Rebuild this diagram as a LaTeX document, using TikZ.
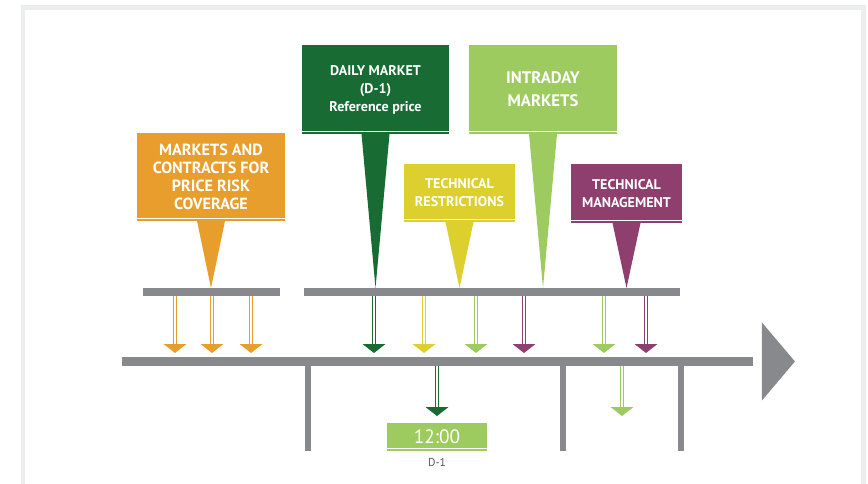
\documentclass[tikz,border=0pt]{standalone}
\usepackage{fontspec}
\setmainfont{PT Sans}
\usetikzlibrary{positioning,calc}

\definecolor{riskorange}{HTML}{E89E2C}
\definecolor{dailygreen}{HTML}{186B33}
\definecolor{restrictyellow}{HTML}{DCCF2E}
\definecolor{intragreen}{HTML}{9DCB5F}
\definecolor{managepurple}{HTML}{8F3F6E}
\definecolor{bargray}{HTML}{88898C}
\definecolor{framegray}{HTML}{ECEEED}

% double-lined drop arrow: colour, x, from node, to node, gap above target
\newcommand\drop[5]{%
  \draw[feed=#1] (#2,0 |- #3.south) -- ($(#2,0 |- #4.north)+(0,-#5)$);
  \fill[#1] ($(#2,0 |- #4.north)+(-11.5,-#5)$) -- ++(23,0) -- ++(-11.5,9) -- cycle;}

% thin light line along the bottom of a box
\newcommand\rim[1]{%
  \draw[white, line width=0.5pt] ($(#1.south west)+(0,-2.5)$) -- ($(#1.south east)+(0,-2.5)$);}

\begin{document}
\begin{tikzpicture}[x=0.02cm, y=-0.02cm,
            every node/.style={inner sep=0pt, outer sep=0pt},
            tag/.style={rectangle, fill=#1, text=white, align=center,
                        font=\bfseries\fontsize{8}{10.2}\selectfont},
            bar/.style={rectangle, fill=bargray, minimum height=0.16cm},
            feed/.style={draw=#1, line width=0.8pt, double=white, double distance=1.1pt},
            tick/.style={draw=bargray, line width=3.4pt}]
        \useasboundingbox (0,0) rectangle (868,483);
        \draw[framegray, line width=2.3pt] (23,520) -- (23,7.5) -- (863.5,7.5) -- (863.5,520);

        % boxes on top
        \node[tag=riskorange, minimum width=2.96cm, minimum height=1.76cm,
              font=\bfseries\fontsize{9.2}{10.2}\selectfont] (cover) at (211,177)
            {MARKETS AND\\CONTRACTS FOR\\PRICE RISK\\COVERAGE};
        \node[tag=dailygreen, minimum width=2.94cm, minimum height=1.78cm] (daily) at (375.5,89.5)
            {DAILY MARKET\\(D-1)\\Reference price};
        \node[tag=restrictyellow, minimum width=2.22cm, minimum height=1.16cm] (restrict) at (459.5,193)
            {TECHNICAL\\RESTRICTIONS};
        \node[tag=intragreen, minimum width=2.96cm, minimum height=1.78cm,
              font=\bfseries\fontsize{9.5}{13}\selectfont] (intraday) at (543,89.5)
            {INTRADAY\\MARKETS};
        \node[tag=managepurple, minimum width=2.22cm, minimum height=1.18cm] (manage) at (626.5,193.5)
            {TECHNICAL\\MANAGEMENT};

        % bars and the time line
        \node[bar, minimum width=2.74cm] (bar1) at (211.5,292) {};
        \node[bar, minimum width=7.52cm] (bar2) at (492,292) {};
        \node[bar, minimum width=12.62cm, minimum height=0.18cm] (line) at (437.5,361.5) {};
        \fill[bargray] ($(line.east)+(9,-39)$) -- ($(line.east)+(9,39)$) -- ($(line.east)+(42,0)$) -- cycle;

        % pointers from the boxes down to the bars
        \foreach \b/\c/\t in {cover/riskorange/bar1, daily/dailygreen/bar2, restrict/restrictyellow/bar2,
                              intraday/intragreen/bar2, manage/managepurple/bar2}
            \fill[\c] ($(\b.south)+(-14,0)$) -- ($(\b.south)+(14,0)$) -- (\b.south |- \t.north) -- cycle;

        % clock box
        \node[fill=intragreen, text=white, minimum width=2cm, minimum height=0.56cm,
              font=\fontsize{11}{12}\selectfont] (clock) at (437,437) {12:00};
        \node[below=0.15cm of clock, text=black!65, font=\fontsize{6.5}{8}\selectfont] (day) {D-1};

        \foreach \b in {cover, daily, restrict, intraday, manage, clock}
            {\rim{\b}}

        % ticks under the time line
        \foreach \x in {308, 563, 681}
            \draw[tick] (\x,0 |- line.south) -- (\x,0 |- clock.south);

        % drops onto the time line
        \foreach \x in {175, 212, 251}
            {\drop{riskorange}{\x}{bar1}{line}{13}}
        \foreach \x/\c in {374/dailygreen, 424/restrictyellow, 476/intragreen,
                           524/managepurple, 604/intragreen, 646/managepurple}
            {\drop{\c}{\x}{bar2}{line}{13}}
        \drop{dailygreen}{437}{line}{clock}{16}
        \drop{intragreen}{622}{line}{clock}{16}
\end{tikzpicture}
\end{document}
